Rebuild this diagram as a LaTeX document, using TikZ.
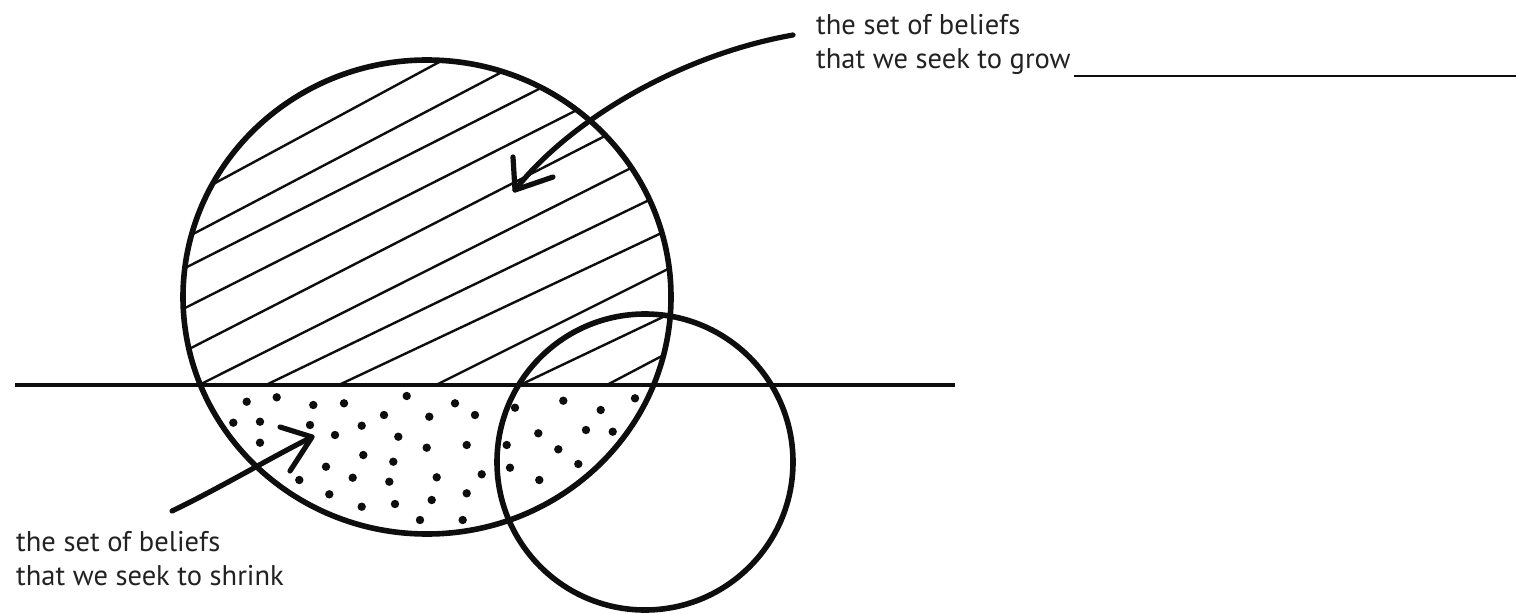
\documentclass[tikz,border=0pt]{standalone}
\usepackage{fontspec}
\setmainfont{PT Sans}
\usetikzlibrary{calc}
\definecolor{inkc}{HTML}{0E0E0E}
\definecolor{textc}{HTML}{222222}
\tikzset{
  bigline/.style={line width=5.6pt, draw=inkc},
  hatchline/.style={line width=2.4pt, draw=inkc, shorten <=-25pt, shorten >=-25pt},
  arrowline/.style={line width=5.2pt, draw=inkc, line cap=round, line join=round},
  label/.style={font=\fontsize{28.5}{34.5}\selectfont, text=textc, align=left, inner sep=0pt, anchor=north west},
  dot/.style={fill=inkc}
}
\begin{document}
\begin{tikzpicture}[x=1pt,y=-1pt]
\useasboundingbox (0,0) rectangle (1523,613);
% hatching in the big circle above the line
\begin{scope}
  \clip (427,297) ellipse [x radius=244pt, y radius=237pt];
  \clip (0,0) rectangle (1523,385);
  \draw[hatchline] (230,175) -- (430,67);
  \draw[hatchline] (195,233) -- (500,73);
  \draw[hatchline] (187,267) -- (537,90);
  \draw[hatchline] (187,307) -- (573,112);
  \draw[hatchline] (193,347) -- (603,137);
  \draw[hatchline] (203,383) -- (627,170);
  \draw[hatchline] (270,383) -- (643,203);
  \draw[hatchline] (343,383) -- (653,237);
  \draw[hatchline] (440,383) -- (660,273);
  \draw[hatchline] (520,385) -- (663,317);
  \draw[hatchline] (603,387) -- (660,357);
\end{scope}
% dots
\foreach \p in {(246.7,401.7),(276.7,397.3),(313.3,405),(344,403.3),(406.7,396),(455,403.3),(563.3,400.7),(635,398.3),
(233.3,422.7),(260,421.7),(310,425),(361.7,425.7),(384,415),(429.3,416.7),(475,415),(515,407.7),(600.7,410),
(260,442.7),(335,435),(398.3,436.7),(426.7,447.7),(466.7,445),(506.7,445),(538.3,433.3),(586,430),(612.7,431.7),(558.3,449.3),
(363.3,455),(393.3,461.7),(326,466.7),(352.7,477.7),(389.3,481.7),(436.7,477.3),(481.7,474.3),(510,467.7),(578.3,464),(539.3,480),
(299.3,480),(329.3,494.3),(361.7,506.7),(395,504),(431.7,500),(466.7,493.3),(420,520),(462.7,520)}
  \fill[dot] \p circle (4.2pt);
% circles and line
\draw[bigline] (427,297) ellipse [x radius=244pt, y radius=237pt];
\draw[bigline] (645,462) ellipse [x radius=148pt, y radius=148pt];
\draw[line width=4.4pt, draw=inkc] (15,385) -- (955,385);
% labels
\node[label] (grow) at (816,14) {the set of beliefs\\that we seek to grow};
\node[label] (shrink) at (16,531) {the set of beliefs\\that we seek to shrink};
\coordinate (ulend) at (1516,76);
\draw[line width=1.9pt, draw=inkc] (grow.south east |- ulend) ++(3,0) coordinate (ulstart) -- (ulend);
% arrow to grow set
\coordinate (g0) at (793,35);
\coordinate (g1) at (515,190);
\draw[arrowline] (g0) .. controls (680,55) and (570,120) .. (g1);
\draw[arrowline] (513,157) -- (g1) -- (553,177);
% arrow to shrink set
\coordinate (s0) at (172,511);
\coordinate (s1) at (312,437);
\draw[arrowline] (s0) .. controls (220,488) and (270,458) .. (s1);
\draw[arrowline] (280,427) -- (s1) -- (290,471);
\end{tikzpicture}
\end{document}
